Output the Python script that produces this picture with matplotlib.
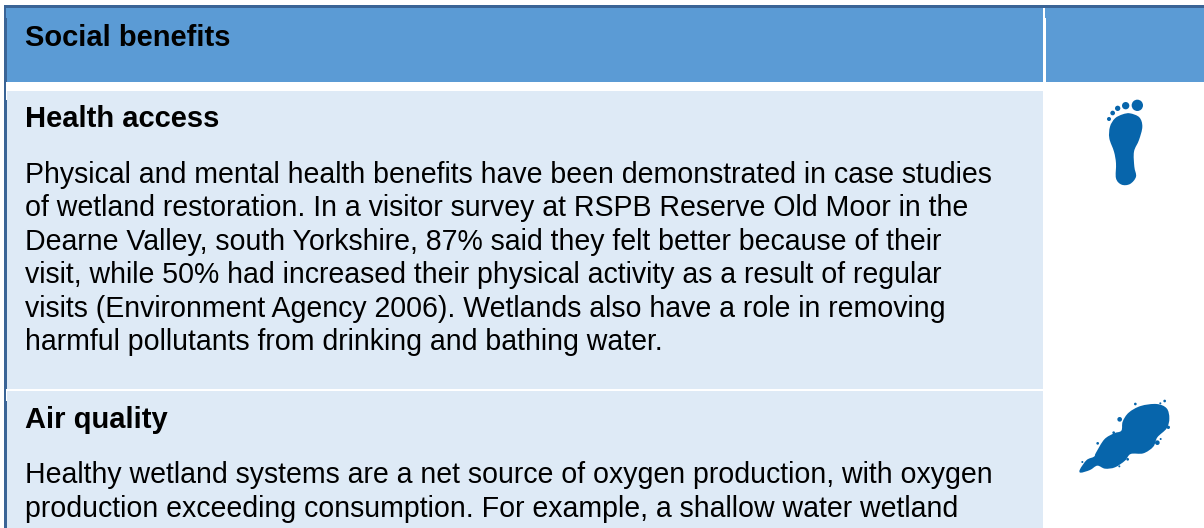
import matplotlib
matplotlib.use("Agg")
import matplotlib.pyplot as plt
from matplotlib.patches import Rectangle, Circle, PathPatch
from matplotlib.path import Path

W, H = 1204, 528
HEADER_TITLE = "Social benefits"
SECTION_TITLES = ["Health access", "Air quality"]
SECTION_TITLE_Y = [127, 428]
BODY_1 = ["Physical and mental health benefits have been demonstrated in case studies",
          "of wetland restoration. In a visitor survey at RSPB Reserve Old Moor in the",
          "Dearne Valley, south Yorkshire, 87% said they felt better because of their",
          "visit, while 50% had increased their physical activity as a result of regular",
          "visits (Environment Agency 2006). Wetlands also have a role in removing",
          "harmful pollutants from drinking and bathing water."]
BODY_1_Y = [183, 216, 250, 283, 317, 350]
BODY_2 = ["Healthy wetland systems are a net source of oxygen production, with oxygen",
          "production exceeding consumption. For example, a shallow water wetland"]
BODY_2_Y = [483, 517]

FOOT = [(270,100),(298,112),(307,140),(297,180),(282,215),(283,260),(288,290),(270,312),
        (245,314),(228,295),(228,250),(222,215),(208,175),(210,140),(225,115),(248,103)]
TOES = [(292,76,17),(257,77,11),(233,85,8),(218,99,7),(207,117,6)]
BLOB = [(168,218),(193,178),(222,160),(244,152),(248,125),(266,98),(302,78),(350,72),
        (380,85),(388,115),(380,145),(352,172),(340,200),(310,220),(272,222),(255,242),
        (225,262),(195,266),(172,257),(150,270),(122,278),(120,268),(140,240),(162,230)]
DROPS = [(239,118,7),(286,72,4),(374,63,4),(361,70,3),(385,142,5),(352,188,7),(362,177,3),
         (221,158,4),(173,190,4),(193,188,3),(263,238,4),(238,259,3),(127,246,3)]

HEAD = "#5b9bd5"; ROW = "#deeaf6"; EDGE = "#3a6496"; ICON = "#0765ab"

fig = plt.figure(figsize=(W/100, H/100), dpi=100, facecolor="white")
ax = fig.add_axes([0, 0, 1, 1])
ax.set_xlim(0, W); ax.set_ylim(H, 0); ax.axis("off")

def rect(x0, y0, x1, y1, c):
    ax.add_patch(Rectangle((x0, y0), x1-x0, y1-y0, fc=c, ec="none", lw=0))

rect(6, 8, 1043, 82, HEAD)
rect(1046, 8, W, 82, HEAD)
rect(1045, 8, 1046, 18, HEAD)
rect(7, 91, 1043, 389, ROW)
rect(7, 391, 1043, H, ROW)
rect(4, 5, W, 8, EDGE)
rect(4, 5, 6, H, EDGE)
rect(6, 18, 7, 82, EDGE)
rect(6, 100, 7, 389, EDGE)
rect(6, 401, 7, H, EDGE)

def smooth(pts, ox, oy):
    p = [(ox+x/3, oy+y/3) for x, y in pts]
    n = len(p)
    v = [p[0]]; c = [Path.MOVETO]
    for i in range(n):
        p0, p1, p2, p3 = p[i-1], p[i], p[(i+1) % n], p[(i+2) % n]
        v += [(p1[0]+(p2[0]-p0[0])/6, p1[1]+(p2[1]-p0[1])/6),
              (p2[0]-(p3[0]-p1[0])/6, p2[1]-(p3[1]-p1[1])/6), p2]
        c += [Path.CURVE4]*3
    ax.add_patch(PathPatch(Path(v, c), fc=ICON, ec="none", lw=0))

def dots(pts, ox, oy):
    for x, y, r in pts:
        ax.add_patch(Circle((ox+x/3, oy+y/3), r/3, fc=ICON, ec="none", lw=0))

smooth(FOOT, 1040, 80); dots(TOES, 1040, 80)
smooth(BLOB, 1040, 380); dots(DROPS, 1040, 380)

FONT = "Liberation Sans"
BOLD = 21.0
BODY = 20.55
ax.text(25, 46, HEADER_TITLE, family=FONT, fontsize=BOLD, weight="bold", color="black", va="baseline")
for t, y in zip(SECTION_TITLES, SECTION_TITLE_Y):
    ax.text(25, y, t, family=FONT, fontsize=BOLD, weight="bold", color="black", va="baseline")
for t, y in zip(BODY_1, BODY_1_Y):
    ax.text(25, y, t, family=FONT, fontsize=BODY, color="black", va="baseline")
for t, y in zip(BODY_2, BODY_2_Y):
    ax.text(25, y, t, family=FONT, fontsize=BODY, color="black", va="baseline")

fig.savefig("out.png", dpi=100, facecolor="white")
